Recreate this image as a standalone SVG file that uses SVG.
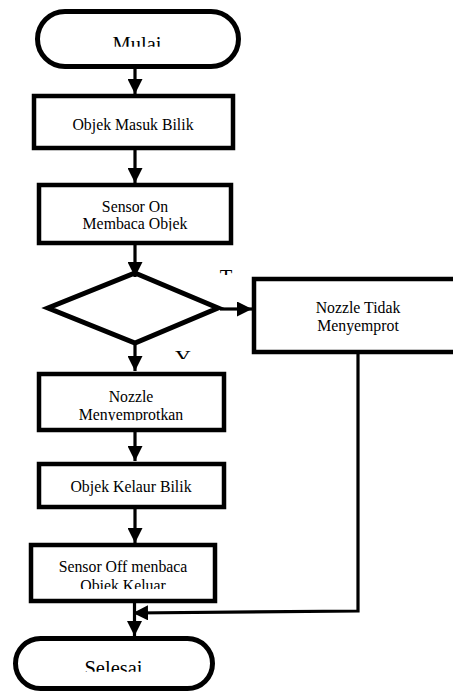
<svg xmlns="http://www.w3.org/2000/svg" width="453" height="691" viewBox="0 0 453 691">
<style>
.term{fill:#fff;stroke:#000;stroke-width:5}
.box{fill:#fff;stroke:#000;stroke-width:4.5}
.conn{fill:none;stroke:#000;stroke-width:3.2}
text{font-family:"Liberation Serif","Times New Roman","DejaVu Serif",serif;fill:#000;text-anchor:middle}
.t{font-size:15.8px}
.tl{font-size:20.5px}
.ty{font-size:22px}
</style>
<defs>
<marker id="ah" viewBox="0 0 10 10" refX="10" refY="5" markerWidth="15" markerHeight="15" markerUnits="userSpaceOnUse" orient="auto">
<path d="M0,0 L10,5 L0,10 Z" fill="#000"/>
</marker>
<clipPath id="cMulai"><rect x="0" y="0" width="453" height="46.7"/></clipPath>
<clipPath id="cSensorOn"><rect x="0" y="0" width="453" height="230.7"/></clipPath>
<clipPath id="cT"><rect x="0" y="0" width="453" height="275"/></clipPath>
<clipPath id="cY"><rect x="0" y="0" width="453" height="359"/></clipPath>
<clipPath id="cNozzle"><rect x="0" y="0" width="453" height="420.5"/></clipPath>
<clipPath id="cSensorOff"><rect x="0" y="0" width="453" height="589"/></clipPath>
<clipPath id="cSelesai"><rect x="0" y="0" width="453" height="671.7"/></clipPath>
</defs>

<g id="mulai">
<rect class="term" x="37.5" y="11.5" width="201" height="55" rx="27.5" ry="27.5"/>
<text class="tl" x="137" y="51" clip-path="url(#cMulai)">Mulai</text>
</g>

<g id="objek-masuk">
<rect class="box" x="34" y="96" width="199" height="52"/>
<text class="t" x="133" y="129.5">Objek Masuk Bilik</text>
</g>

<g id="sensor-on">
<rect class="box" x="39" y="185" width="192" height="58"/>
<text class="t" x="135" y="212.3">Sensor On</text>
<text class="t" x="135" y="229" clip-path="url(#cSensorOn)">Membaca Objek</text>
</g>

<g id="decision">
<polygon points="135,273 218,308 135,343 48,308" fill="#fff" stroke="#000" stroke-width="5" stroke-linejoin="miter"/>
</g>

<g id="label-t">
<text class="tl" x="226" y="283.5" clip-path="url(#cT)">T</text>
</g>

<g id="nozzle-tidak">
<rect class="box" x="254" y="279" width="210" height="73"/>
<text class="t" x="358" y="313.3">Nozzle Tidak</text>
<text class="t" x="358" y="331">Menyemprot</text>
</g>

<g id="label-y">
<text class="ty" x="183" y="365" clip-path="url(#cY)">Y</text>
</g>

<g id="nozzle-menyemprotkan">
<rect class="box" x="39" y="374" width="185" height="56"/>
<text class="t" x="131" y="401.7">Nozzle</text>
<text class="t" x="131" y="419.5" clip-path="url(#cNozzle)">Menyemprotkan</text>
</g>

<g id="objek-kelaur">
<rect class="box" x="39" y="464" width="185" height="43"/>
<text class="t" x="131" y="491.7">Objek Kelaur Bilik</text>
</g>

<g id="sensor-off">
<rect class="box" x="31" y="545" width="184" height="56"/>
<text class="t" x="123" y="571.7">Sensor Off menbaca</text>
<text class="t" x="123" y="590.5" clip-path="url(#cSensorOff)">Objek Keluar</text>
</g>

<g id="selesai">
<rect class="term" x="15.5" y="638.5" width="197" height="50" rx="25" ry="25"/>
<text class="tl" x="113.5" y="675.3" clip-path="url(#cSelesai)">Selesai</text>
</g>

<g id="connectors">
<line class="conn" x1="135" y1="69" x2="135" y2="94" marker-end="url(#ah)"/>
<line class="conn" x1="135" y1="150" x2="135" y2="183" marker-end="url(#ah)"/>
<line class="conn" x1="135" y1="245" x2="135" y2="277" marker-end="url(#ah)"/>
<line class="conn" x1="220" y1="309" x2="252" y2="309" marker-end="url(#ah)"/>
<line class="conn" x1="135" y1="345" x2="135" y2="371" marker-end="url(#ah)"/>
<line class="conn" x1="135" y1="432" x2="135" y2="461" marker-end="url(#ah)"/>
<line class="conn" x1="135" y1="509" x2="135" y2="543" marker-end="url(#ah)"/>
<line class="conn" x1="134.5" y1="603" x2="134.5" y2="636" marker-end="url(#ah)"/>
<polyline class="conn" points="358,354 358,611 133,613" marker-end="url(#ah)"/>
</g>
</svg>
